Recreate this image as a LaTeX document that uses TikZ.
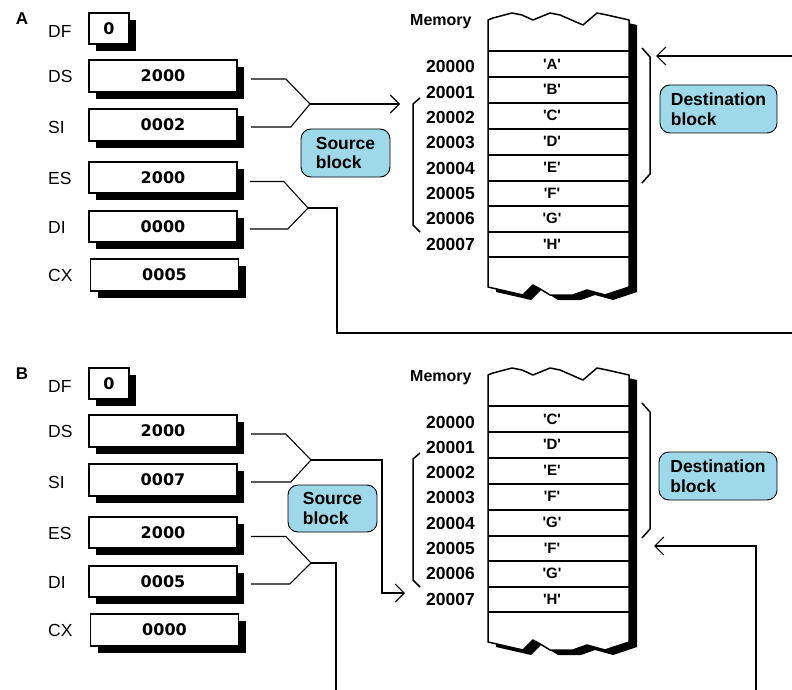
\documentclass[tikz,border=0pt]{standalone}
\usepackage{fontspec}
\setmainfont{Liberation Sans}
\newfontfamily\valfont{DejaVu Sans}
\usetikzlibrary{arrows.meta,shadows}
\definecolor{blockblue}{HTML}{9DD9E9}
\newcommand\qq[1]{\textquotesingle#1\textquotesingle}
\tikzset{
  regbox/.style={draw=black, line width=1.6pt, fill=white, minimum width=148pt, minimum height=32pt, inner sep=0pt,
    font=\valfont\bfseries\fontsize{16}{16}\selectfont,
    general shadow={fill=black, shadow xshift=7pt, shadow yshift=-7pt}},
  dfbox/.style={regbox, minimum width=40pt, minimum height=31pt},
  reglabel/.style={anchor=west, inner sep=0pt, font=\fontsize{17.5}{17.5}\selectfont},
  panellbl/.style={inner sep=0pt, font=\bfseries\fontsize{17}{17}\selectfont},
  addr/.style={anchor=base east, inner sep=0pt, font=\bfseries\fontsize{17.5}{17.5}\selectfont},
  celltxt/.style={inner sep=0pt, font=\bfseries\fontsize{15}{15}\selectfont},
  memlabel/.style={anchor=base west, inner sep=0pt, font=\bfseries\fontsize{16}{16}\selectfont},
  callout/.style={draw=black, line width=0.9pt, fill=blockblue, rounded corners=10pt, align=left, inner sep=0pt,
    font=\bfseries\fontsize{17.5}{19.5}\selectfont},
  conn/.style={line width=1.1pt},
  brk/.style={line width=1.5pt},
  barb/.style={-{Straight Barb[length=9pt,width=18pt,line width=1.1pt]}}
}
\begin{document}
\begin{tikzpicture}[x=1pt,y=-1pt]
\useasboundingbox (0,0) rectangle (792,690);
\fill[white] (0,0) rectangle (792,690);

% ---------- memory outlines (both panels) ----------
\foreach \oy in {0,355}{
  \begin{scope}[shift={(0,\oy)}]
    \fill[black,shift={(8,5)}] (488,20) -- (493,18) -- (512,13) -- (522,15) -- (533,20) -- (550,13) -- (560,15) -- (583,25) -- (597,13) -- (607,15) -- (629,20) -- (629,287) -- (605,295) -- (587,290) -- (573,295) -- (550,295) -- (542,290) -- (533,285) -- (523,295) -- (488,287) -- cycle;
    \filldraw[fill=white,draw=black,line width=1.5pt,line join=round] (488,20) -- (493,18) -- (512,13) -- (522,15) -- (533,20) -- (550,13) -- (560,15) -- (583,25) -- (597,13) -- (607,15) -- (629,20) -- (629,287) -- (605,295) -- (587,290) -- (573,295) -- (550,295) -- (542,290) -- (533,285) -- (523,295) -- (488,287) -- cycle;
    \foreach \y in {51,77,103,129,155,181,206,232,257}{
      \draw[line width=1.2pt] (488,\y) -- (629,\y);
    }
  \end{scope}
}

% ---------- Panel A ----------
\node[panellbl] (lblA) at (22,19) {A};
\node[reglabel] (tDFA) at (48,31) {DF};
\node[reglabel] (tDSA) at (48,76.5) {DS};
\node[reglabel] (tSIA) at (48,127) {SI};
\node[reglabel] (tESA) at (48,178) {ES};
\node[reglabel] (tDIA) at (48,227) {DI};
\node[reglabel] (tCXA) at (48,275) {CX};
\node[dfbox] (dfA) at (109,28.5) {0};
\node[regbox] (dsA) at (163,76) {2000};
\node[regbox] (siA) at (163,125) {0002};
\node[regbox,minimum height=31pt] (esA) at (163,177.5) {2000};
\node[regbox,minimum height=31pt] (diA) at (163,226.5) {0000};
\node[regbox] (cxA) at (164.5,275) {0005};

\node[memlabel] (memA) at (410,26) {Memory};
\foreach \a [count=\i from 0] in {20000,20001,20002,20003,20004,20005,20006,20007}{
  \node[addr] (adA\i) at (475,{73+25.3*\i}) {\a};
}
\foreach \t [count=\i from 0] in {A,B,C,D,E,F,G,H}{
  \node[celltxt] (cA\i) at (552,{64+25.8*\i}) {\qq{\t}};
}

\node[callout,minimum width=89pt,minimum height=48pt] (srcblkA) at (345.5,153) {Source\\block};
\node[callout,minimum width=117pt,minimum height=48pt] (dstblkA) at (718.5,109) {Destination\\block};

% brackets A
\draw[brk] (420,98) -- (413,104) -- (413,225) -- (420,232);
\draw[brk] (642,48) -- (650,57) -- (650,174) -- (642,183);

% connectors A
\coordinate (jsA) at (310,104);
\coordinate (tipsA) at (400,104);
\coordinate (jdA) at (308,208);
\coordinate (cornA) at (337,333);
\coordinate (edgeA) at (792,333);
\coordinate (edgeA2) at (792,56);
\coordinate (tipdA) at (656,56);
\draw[conn] ([shift={(13pt,-3pt)}]dsA.east) -- ++(35,0) -- (jsA);
\draw[conn] ([shift={(13pt,-2pt)}]siA.east) -- ++(40,0) -- (jsA);
\draw[conn,barb] (jsA) -- (tipsA);
\draw[conn] ([shift={(12pt,-4pt)}]esA.east) -- ++(34,0) -- (jdA);
\draw[conn] ([shift={(12pt,-2.5pt)}]diA.east) -- ++(38,0) -- (jdA);
\draw[conn] (jdA) -| (cornA) -- (edgeA);
\draw[conn,barb] (edgeA2) -- (tipdA);

% ---------- Panel B ----------
\begin{scope}[shift={(0,355)}]
\node[panellbl] (lblB) at (22,19) {B};
\node[reglabel] (tDFB) at (48,31) {DF};
\node[reglabel] (tDSB) at (48,76.5) {DS};
\node[reglabel] (tSIB) at (48,127) {SI};
\node[reglabel] (tESB) at (48,178) {ES};
\node[reglabel] (tDIB) at (48,227) {DI};
\node[reglabel] (tCXB) at (48,275) {CX};
\node[dfbox] (dfB) at (109,28.5) {0};
\node[regbox] (dsB) at (163,76) {2000};
\node[regbox] (siB) at (163,125) {0007};
\node[regbox,minimum height=31pt] (esB) at (163,177.5) {2000};
\node[regbox,minimum height=31pt] (diB) at (163,226.5) {0005};
\node[regbox] (cxB) at (164.5,275) {0000};

\node[memlabel] (memB) at (410,26) {Memory};
\foreach \a [count=\i from 0] in {20000,20001,20002,20003,20004,20005,20006,20007}{
  \node[addr] (adB\i) at (475,{73+25.3*\i}) {\a};
}
\foreach \t [count=\i from 0] in {C,D,E,F,G,F,G,H}{
  \node[celltxt] (cB\i) at (552,{64+25.8*\i}) {\qq{\t}};
}
\draw[brk] (420,98) -- (413,104) -- (413,225) -- (420,232);
\draw[brk] (642,48) -- (650,57) -- (650,174) -- (642,183);
\end{scope}

\node[callout,minimum width=89pt,minimum height=47pt] (srcblkB) at (332.5,508.5) {Source\\block};
\node[callout,minimum width=118pt,minimum height=48pt] (dstblkB) at (718,476) {Destination\\block};

% connectors B
\coordinate (jsB) at (311,460);
\coordinate (cornB) at (382,593);
\coordinate (tipsB) at (405,593);
\coordinate (jdB) at (311,563);
\coordinate (botB) at (336,690);
\coordinate (botB2) at (756,690);
\coordinate (tipdB) at (654,546);
\draw[conn] ([shift={(13pt,-3pt)}]dsB.east) -- ++(35,0) -- (jsB);
\draw[conn] ([shift={(13pt,-2pt)}]siB.east) -- ++(40,0) -- (jsB);
\draw[conn,barb] (jsB) -| (cornB) -- (tipsB);
\draw[conn] ([shift={(13pt,-4pt)}]esB.east) -- ++(35,0) -- (jdB);
\draw[conn] ([shift={(13pt,-2.5pt)}]diB.east) -- ++(39,0) -- (jdB);
\draw[conn] (jdB) -| (botB);
\draw[conn,barb] (botB2) |- (tipdB);
\end{tikzpicture}
\end{document}
